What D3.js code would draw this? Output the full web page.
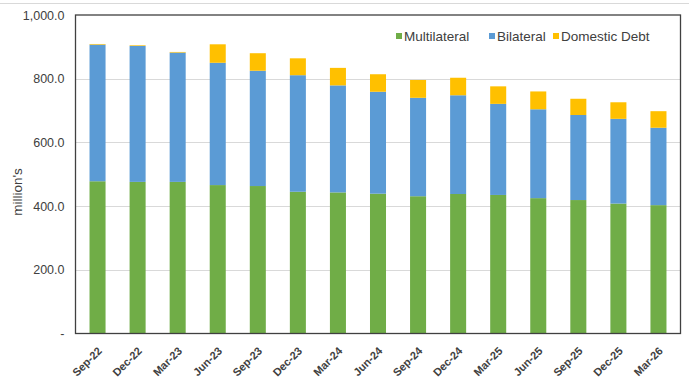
<!DOCTYPE html>
<html>
<head>
<meta charset="utf-8">
<script src="https://cdn.jsdelivr.net/npm/d3@7"></script>
<style>
  html, body { margin: 0; padding: 0; background: #fff; }
  svg { display: block; font-family: "Liberation Sans", Arial, sans-serif; }
</style>
</head>
<body>
<svg id="chart" width="689" height="387"></svg>
<script>
// Quarterly debt stock, million's
const categories = ["Sep-22","Dec-22","Mar-23","Jun-23","Sep-23","Dec-23","Mar-24","Jun-24",
                    "Sep-24","Dec-24","Mar-25","Jun-25","Sep-25","Dec-25","Mar-26"];
const multilateral = [478, 476, 476, 466, 463, 445, 443, 439, 431, 438, 435, 425, 419, 408, 403];
const bilateral    = [429, 427, 406, 384, 362, 366, 336, 320, 309, 310, 286, 279, 267, 266, 243];
const domesticDebt = [2, 2, 2, 58, 55, 53, 55, 55, 56, 55, 55, 56, 51, 52, 52];
const seriesNames  = ["Multilateral", "Bilateral", "Domestic Debt"];
const yTicks = [0, 200, 400, 600, 800, 1000];

const colors = ["#70AD47", "#5B9BD5", "#FFC000"];

const rows = categories.map((c, i) => ({
  cat: c,
  "Multilateral": multilateral[i],
  "Bilateral": bilateral[i],
  "Domestic Debt": domesticDebt[i]
}));

const svg = d3.select("#chart");
const W = 689, H = 387;
const plot = { left: 75.5, right: 680.5, top: 15, bottom: 333.5 };

// chart area top rule
svg.append("line")
  .attr("x1", 0).attr("x2", W).attr("y1", 3.5).attr("y2", 3.5)
  .attr("stroke", "#d9d9d9").attr("stroke-width", 1);

const x = d3.scaleBand().domain(categories)
  .range([plot.left, plot.right]).paddingInner(0.6).paddingOuter(0.35);
const y = d3.scaleLinear().domain([0, 1000]).range([plot.bottom, plot.top]);

// gridlines
svg.append("g").selectAll("line").data(yTicks.filter(t => t > 0 && t < 1000)).join("line")
  .attr("x1", plot.left).attr("x2", plot.right)
  .attr("y1", d => Math.round(y(d)) + 0.5).attr("y2", d => Math.round(y(d)) + 0.5)
  .attr("stroke", "#d9d9d9").attr("stroke-width", 1);

// stacked bars
const stack = d3.stack().keys(seriesNames)(rows);
svg.append("g").selectAll("g").data(stack).join("g")
  .attr("fill", (d, i) => colors[i])
  .selectAll("rect").data(d => d).join("rect")
  .attr("x", d => x(d.data.cat))
  .attr("width", x.bandwidth())
  .attr("y", d => y(d[1]))
  .attr("height", d => y(d[0]) - y(d[1]));

// plot border
svg.append("rect")
  .attr("x", plot.left).attr("y", plot.top)
  .attr("width", plot.right - plot.left).attr("height", plot.bottom - plot.top)
  .attr("fill", "none").attr("stroke", "#404040").attr("stroke-width", 1.3);

// y axis labels
const fmt = d => d === 0 ? "-" : d3.format(",.1f")(d);
const yAxis = d3.axisLeft(y).tickValues(yTicks).tickFormat(fmt).tickSize(0).tickPadding(11);
const gy = svg.append("g").attr("transform", `translate(${plot.left},0)`).call(yAxis);
gy.select(".domain").remove();
gy.selectAll("text").attr("font-size", 12.5).attr("fill", "#404040")
  .attr("font-family", "'Liberation Sans', Arial, sans-serif");

// y axis title
svg.append("text")
  .attr("transform", "translate(22,192) rotate(-90)")
  .attr("text-anchor", "middle")
  .attr("font-size", 13.5).attr("fill", "#404040")
  .text("million's");

// x axis labels, rotated
const xAxis = d3.axisBottom(x).tickSize(0).tickPadding(0);
const gx = svg.append("g").attr("transform", `translate(0,${plot.bottom})`).call(xAxis);
gx.select(".domain").remove();
gx.selectAll("text")
  .attr("text-anchor", "end")
  .attr("font-size", 11).attr("font-weight", "bold").attr("fill", "#404040")
  .attr("font-family", "'Liberation Sans', Arial, sans-serif")
  .attr("dy", null).attr("y", null)
  .attr("transform", "translate(3,16) rotate(-45)")
  .attr("dominant-baseline", "middle");

// legend
const legendItems = [
  { name: seriesNames[0], x: 396 },
  { name: seriesNames[1], x: 489 },
  { name: seriesNames[2], x: 553 }
];
const lg = svg.append("g").selectAll("g").data(legendItems).join("g")
  .attr("transform", d => `translate(${d.x},36)`);
lg.append("rect").attr("x", 0).attr("y", -3).attr("width", 6).attr("height", 6)
  .attr("fill", (d, i) => colors[i]);
lg.append("text").attr("x", 8).attr("y", 0).attr("dy", "0.35em")
  .attr("font-size", 13.5).attr("fill", "#404040")
  .text(d => d.name);
</script>
</body>
</html>
